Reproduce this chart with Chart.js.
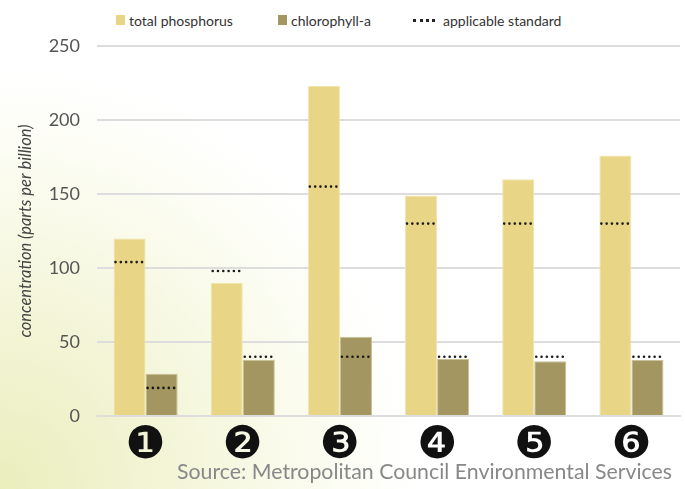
<!DOCTYPE html>
<html>
<head>
<meta charset="utf-8">
<script src="https://cdn.jsdelivr.net/npm/chart.js@4.4.1/dist/chart.umd.min.js"></script>
<style>
  html, body { margin: 0; padding: 0; }
  body {
    width: 685px; height: 489px; overflow: hidden; position: relative;
    background: radial-gradient(circle at 0% 100%, #eaeebc 0%, #f2f4d4 18%, #fafbec 35%, #ffffff 50%);
    font-family: Lato, sans-serif;
  }
  #wrap { position: absolute; left: 0; top: 0; width: 685px; height: 489px; }
  #legend { position: absolute; top: 10px; left: 0; width: 685px; height: 20px; font-size: 14px; color: #333; }
  .item { position: absolute; top: 0; display: flex; align-items: center; height: 20px; }
  .box { width: 9px; height: 10px; margin-right: 4px; }
  .dots { width: 22px; height: 0; border-top: 3px dotted #222; margin-right: 8px; }
  #source { position: absolute; right: 13px; top: 458px; font-size: 21.3px; color: #888; white-space: nowrap; }
</style>
</head>
<body>
<div id="legend">
  <div class="item" style="left:116px"><span class="box" style="background:#e8d586"></span>total phosphorus</div>
  <div class="item" style="left:278px"><span class="box" style="background:#a39660"></span>chlorophyll-a</div>
  <div class="item" style="left:413px"><span class="dots"></span>applicable standard</div>
</div>
<div id="wrap"><canvas id="chart" width="685" height="489"></canvas></div>
<div id="source">Source: Metropolitan Council Environmental Services</div>
<script>
const sites = ["❶", "❷", "❸", "❹", "❺", "❻"];
const phosphorus = [120, 90, 223, 149, 160, 176];
const chlorophyll = [28.5, 38, 53.5, 38.5, 37, 38];
const phosphorusStandard = [104, 98, 155, 130, 130, 130];
const chlorophyllStandard = [19, 40, 40, 40, 40, 40];
const yTicks = [0, 50, 100, 150, 200, 250];

const standardLines = {
    id: "standardLines",
    afterDatasetsDraw(chart) {
        const ctx = chart.ctx;
        const y = chart.scales.y;
        const sets = [phosphorusStandard, chlorophyllStandard];
        ctx.save();
        ctx.strokeStyle = "#1a1a1a";
        ctx.lineWidth = 2.6;
        ctx.lineCap = "round";
        ctx.setLineDash([0, 5.3]);
        sets.forEach((std, d) => {
            chart.getDatasetMeta(d).data.forEach((bar, i) => {
                const py = y.getPixelForValue(std[i]);
                ctx.beginPath();
                ctx.moveTo(bar.x - bar.width / 2 + 2, py);
                ctx.lineTo(bar.x + bar.width / 2 - 1, py);
                ctx.stroke();
            });
        });
        ctx.restore();
    }
};

new Chart(document.getElementById("chart"), {
    type: "bar",
    data: {
        labels: sites,
        datasets: [
            { label: "total phosphorus", data: phosphorus, backgroundColor: "#e8d586", borderColor: "#f1e4ac", borderWidth: 1 },
            { label: "chlorophyll-a", data: chlorophyll, backgroundColor: "#a39660", borderColor: "#c9c093", borderWidth: 1 }
        ]
    },
    plugins: [standardLines],
    options: {
        responsive: false,
        animation: false,
        devicePixelRatio: 1,
        layout: { padding: { top: 46, right: 5, left: 16, bottom: 20 } },
        datasets: { bar: { categoryPercentage: 0.66, barPercentage: 1 } },
        plugins: {
            legend: { display: false },
            tooltip: { enabled: false }
        },
        scales: {
            x: {
                grid: { display: false },
                border: { color: "#ddd", width: 2 },
                ticks: { color: "#111", font: { family: "DejaVu Sans", size: 45, lineHeight: 1 }, padding: 0 }
            },
            y: {
                min: 0, max: 250,
                afterBuildTicks(scale) { scale.ticks = yTicks.map(v => ({ value: v })); },
                afterFit(scale) { scale.width = 81; },
                grid: { color: "#dddddd", lineWidth: 2, drawTicks: false },
                border: { display: false },
                ticks: { color: "#555", font: { family: "Lato", size: 18 }, padding: 17 },
                title: {
                    display: true,
                    text: "concentration (parts per billion)",
                    color: "#444",
                    font: { family: "Lato", size: 16.5, style: "italic" },
                    padding: { top: 0, bottom: 0 }
                }
            }
        }
    }
});
</script>
</body>
</html>
